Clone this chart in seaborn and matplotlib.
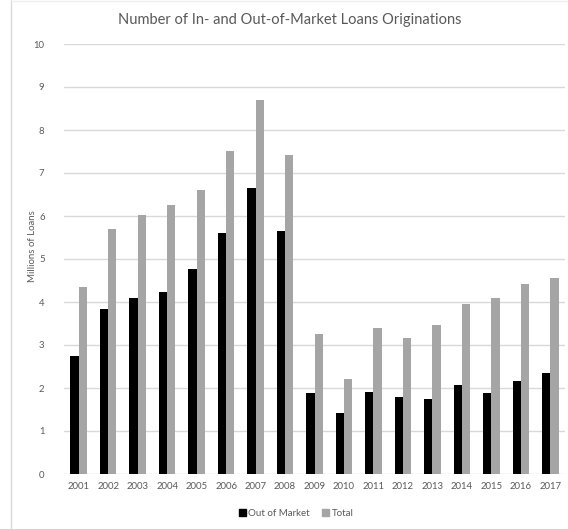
import matplotlib
matplotlib.use("Agg")
import matplotlib.pyplot as plt
from matplotlib.lines import Line2D
import seaborn as sns
import pandas as pd

years = [str(y) for y in range(2001, 2018)]
out_of_market = [2.74, 3.83, 4.09, 4.24, 4.76, 5.60, 6.64, 5.64, 1.88, 1.41,
                 1.91, 1.78, 1.74, 2.07, 1.88, 2.16, 2.34]
total = [4.35, 5.70, 6.02, 6.25, 6.60, 7.52, 8.70, 7.41, 3.25, 2.22,
         3.39, 3.16, 3.47, 3.95, 4.09, 4.41, 4.55]
series_names = ["Out of Market", "Total"]
y_ticks = list(range(0, 11))

df = pd.DataFrame({
    "Year": years * 2,
    "Loans": out_of_market + total,
    "Series": [series_names[0]] * len(years) + [series_names[1]] * len(years),
})

sns.set_theme(style="white")
plt.rcParams["font.family"] = ["Lato", "DejaVu Sans"]
text_color = "#595959"
grid_color = "#d9d9d9"

fig = plt.figure(figsize=(5.68, 5.29), dpi=100)
ax = fig.add_axes([64 / 568, 55 / 529, 501 / 568, 430 / 529])

sns.barplot(data=df, x="Year", y="Loans", hue="Series", order=years,
            hue_order=series_names, palette=["#000000", "#a5a5a5"],
            width=0.56, gap=0, linewidth=0, saturation=1, ax=ax, zorder=3)

ax.set_ylim(0, 10)
ax.set_yticks(y_ticks)
ax.set_xlim(-0.5, len(years) - 0.5)
for yv in y_ticks:
    ax.axhline(yv, color=grid_color, linewidth=1.0, zorder=1)
for s in ax.spines.values():
    s.set_visible(False)
ax.tick_params(axis="both", length=0, labelsize=6.9, colors=text_color)
ax.tick_params(axis="y", pad=14)
ax.tick_params(axis="x", pad=6)
ax.set_xlabel("")
ax.set_ylabel("Millions of Loans", fontsize=6.9, color=text_color)
ax.yaxis.set_label_coords(-0.053, 0.53)

ax.get_legend().remove()
handles = [plt.Rectangle((0, 0), 1, 1, color="#000000"),
           plt.Rectangle((0, 0), 1, 1, color="#a5a5a5")]
fig.legend(handles, series_names, loc="center", bbox_to_anchor=(296 / 568, 16 / 529),
           ncol=2, frameon=False, fontsize=7.0, labelcolor=text_color,
           handlelength=0.7, handleheight=0.7, handletextpad=0.3, columnspacing=1.2)

fig.text(290 / 568, 1 - 20 / 529, "Number of In- and Out-of-Market Loans Originations",
         ha="center", va="center", fontsize=10.5, color=text_color)

# chart-area border
fig.add_artist(Line2D([10.5 / 568, 10.5 / 568], [1 / 529, 1.0], transform=fig.transFigure,
                      color="#d9d9d9", linewidth=1.0))
fig.add_artist(Line2D([10.5 / 568, 1.0], [1 - 0.5 / 529, 1 - 0.5 / 529], transform=fig.transFigure,
                      color="#eeeeee", linewidth=1.0))

fig.savefig("out.png", dpi=100)
